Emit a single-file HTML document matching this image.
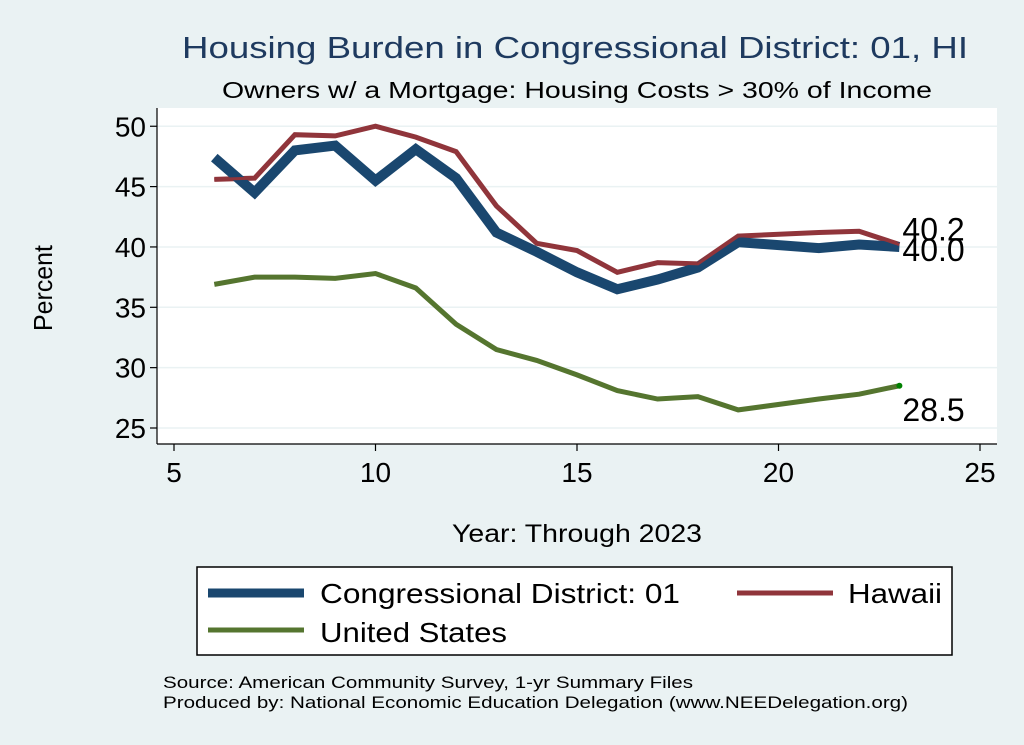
<!DOCTYPE html>
<html><head><meta charset="utf-8"><style>
body{margin:0;background:#eaf2f3;}
svg{display:block;font-family:"Liberation Sans",Arial,sans-serif;}
</style></head><body>
<svg id="chart" width="1024" height="745" viewBox="0 0 1024 745">
<rect x="0" y="0" width="1024" height="745" fill="#eaf2f3"/>
<text x="182" y="58" font-size="31" fill="#1e3a5f" textLength="786" lengthAdjust="spacingAndGlyphs">Housing Burden in Congressional District:  01, HI</text>
<text x="222" y="98" font-size="23" fill="#000" textLength="710" lengthAdjust="spacingAndGlyphs">Owners w/ a Mortgage: Housing Costs &gt; 30% of Income</text>
<rect x="157" y="108" width="840" height="336" fill="#fff"/>
<g id="grid"></g><g id="axes"></g><g id="series"></g><g id="labels"></g>
<text transform="translate(52,288) rotate(-90)" text-anchor="middle" font-size="26" textLength="86" lengthAdjust="spacingAndGlyphs">Percent</text>
<text x="452" y="542" font-size="25" textLength="250" lengthAdjust="spacingAndGlyphs">Year: Through 2023</text>
<g>
<rect x="197" y="567" width="755" height="88" fill="#fff" stroke="#000" stroke-width="1.5"/>
<line x1="208" y1="593" x2="304" y2="593" stroke="#1a476f" stroke-width="9"/>
<text x="320" y="603" font-size="28" textLength="360" lengthAdjust="spacingAndGlyphs">Congressional District:  01</text>
<line x1="737" y1="593" x2="833" y2="593" stroke="#90353b" stroke-width="5"/>
<text x="848" y="603" font-size="28" textLength="94" lengthAdjust="spacingAndGlyphs">Hawaii</text>
<line x1="208" y1="630" x2="304" y2="630" stroke="#55752f" stroke-width="5"/>
<text x="320" y="642" font-size="28" textLength="187" lengthAdjust="spacingAndGlyphs">United States</text>
</g>
<text x="163" y="688" font-size="17" textLength="530" lengthAdjust="spacingAndGlyphs">Source: American Community Survey, 1-yr Summary Files</text>
<text x="163" y="708" font-size="17" textLength="745" lengthAdjust="spacingAndGlyphs">Produced by: National Economic Education Delegation (www.NEEDelegation.org)</text>
</svg>
<script>
const years=[6,7,8,9,10,11,12,13,14,15,16,17,18,19,21,22,23];
const district=[47.4,44.5,48.0,48.4,45.5,48.1,45.7,41.2,39.6,37.9,36.5,37.3,38.3,40.4,39.9,40.2,40.0];
const hawaii=[45.6,45.7,49.3,49.2,50.0,49.1,47.9,43.4,40.3,39.7,37.9,38.7,38.6,40.9,41.2,41.3,40.2];
const us=[36.9,37.5,37.5,37.4,37.8,36.6,33.6,31.5,30.6,29.4,28.1,27.4,27.6,26.5,27.4,27.8,28.5];
const xTicks=[5,10,15,20,25];
const yTicks=[25,30,35,40,45,50];
const endLabels=["40.0","40.2","28.5"];
const NS="http://www.w3.org/2000/svg";
function X(v){return 174+(v-5)*40.3;}
function Y(v){return 428-(v-25)*12.07;}
function mk(tag,attrs,parent){const e=document.createElementNS(NS,tag);for(const k in attrs)e.setAttribute(k,attrs[k]);document.getElementById(parent).appendChild(e);return e;}
yTicks.forEach(t=>{
 const g=mk('line',{x1:157,x2:997,y1:Y(t),y2:Y(t),stroke:'#eaf2f3','stroke-width':1.5},'grid');
 
 
 const tk=mk('line',{x1:150,x2:157,y1:Y(t),y2:Y(t),stroke:'#000','stroke-width':1.2},'axes');
 
 
 const tx=mk('text',{x:146,y:Y(t)+10,'text-anchor':'end','font-size':28},'axes');
 tx.textContent=t;
 
 
});
xTicks.forEach(t=>{
 const tk=mk('line',{x1:X(t),x2:X(t),y1:444,y2:451,stroke:'#000','stroke-width':1.2},'axes');
 
 
 const tx=mk('text',{x:X(t),y:482,'text-anchor':'middle','font-size':28},'axes');
 tx.textContent=t;
 
 
});
const ya=mk('line',{x1:157,x2:157,y1:108,y2:444,stroke:'#000','stroke-width':1.2},'axes');


const xa=mk('line',{x1:157,x2:997,y1:444,y2:444,stroke:'#000','stroke-width':1.2},'axes');


function line(vals,color,w,name){
 const p=mk('polyline',{points:years.map((y,i)=>X(y)+','+Y(vals[i])).join(' '),fill:'none',stroke:color,'stroke-width':w,'stroke-linejoin':'miter'},'series');
 
 
}
line(us,'#55752f',5,'line-united-states');
line(hawaii,'#90353b',5,'line-hawaii');
line(district,'#1a476f',10,'line-district');
line(hawaii,'#90353b',3,'line-hawaii-overlay');
const li=years.length-1;
const dot=mk('circle',{cx:X(years[li]),cy:Y(us[li]),r:3,fill:'#008000'},'labels');


[[district,14],[hawaii,-4],[us,35]].forEach((s,i)=>{
 const t=mk('text',{x:X(years[li])+3,y:Y(s[0][li])+s[1],'font-size':32},'labels');
 t.textContent=endLabels[i];
 
 
});
</script>
</body></html>
